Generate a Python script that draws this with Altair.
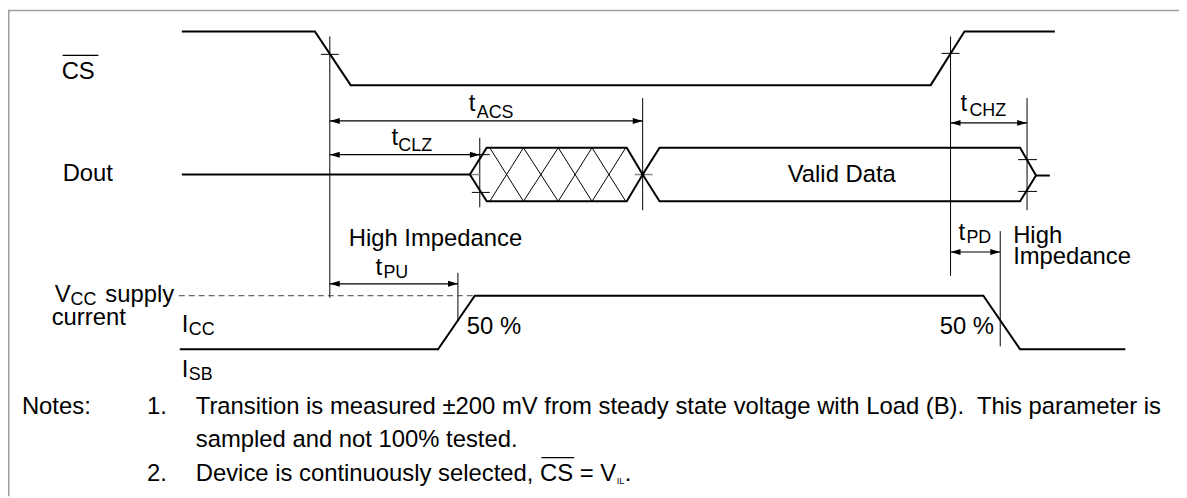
import altair as alt
import pandas as pd

# ---------------- values ----------------
# waveform vertices: time position and signal level (diagram units)
cs_time = [183, 317, 353, 937, 971, 1062]
cs_level = [30, 30, 84, 84, 30, 30]

dout_hiz_time = [183, 473]
dout_hiz_level = [174, 174]

dout_bus_time = [473, 490, 631, 647, 664, 1027, 1043, 1027, 664, 647, 631, 490, 473]
dout_bus_level = [174, 147, 147, 174, 147, 147, 175, 201, 201, 174, 201, 201, 174]

dout_tail_time = [1043, 1057]
dout_tail_level = [175, 175]

icc_time = [181, 441, 478, 990, 1027, 1133]
icc_level = [350, 350, 296, 296, 350, 350]

# "don't care" hatch apexes
hatch_apex = [493, 527, 562, 596, 630]
hatch_top = 147
hatch_bottom = 201

# timing reference marks
ref_x1 = [332, 323, 957, 948, 483, 475, 475, 647, 1034, 1025, 1025, 461, 1007]
ref_y1 = [35, 53, 35, 52, 137, 154, 192, 97, 97, 159, 191, 273, 231]
ref_x2 = [332, 341, 957, 966, 483, 493, 493, 647, 1034, 1044, 1044, 461, 1007]
ref_y2 = [298, 53, 276, 52, 207, 154, 192, 210, 210, 159, 191, 322, 347]

gray_x1 = [474, 639]
gray_x2 = [483, 657]
gray_y = [174, 174]

# dimension arrows
arrow_name = ["tACS", "tCLZ", "tCHZ", "tPD", "tPU"]
arrow_y = [120, 154, 122, 252, 284]
arrow_from = [332, 332, 957, 957, 332]
arrow_to = [647, 483, 1034, 1007, 461]

# supply reference (dashed)
dash_from, dash_to, dash_level = 180, 476, 296

# labels
M, S = 24, 18
label_text = ["CS", "Dout",
              "t", "ACS", "t", "CLZ", "t", "CHZ",
              "Valid Data", "High Impedance",
              "t", "PD", "High", "Impedance",
              "t", "PU",
              "V", "CC", "supply", "current",
              "I", "CC", "I", "SB",
              "50 %", "50 %",
              "Notes:", "1.",
              "Transition is measured \u00b1200 mV from steady state voltage with Load (B).\u00a0 This parameter is",
              "sampled and not 100% tested.",
              "2.", "Device is continuously selected, CS = V", "IL", "."]
label_x = [62, 63,
           472, 480, 394, 401, 967, 976,
           793, 351,
           965, 973, 1020, 1020,
           378, 386,
           55, 71, 106, 52,
           183, 190, 183, 190,
           470, 946,
           22, 148,
           197,
           197,
           148, 197, 621, 629]
label_y = [78, 181,
           110, 117, 144, 150, 110, 115,
           182, 246,
           240, 243, 243, 264,
           275, 278,
           302, 305, 302, 325,
           333, 336, 378, 381,
           335, 335,
           415, 415,
           415,
           448,
           483, 483, 486, 483]
label_size = [M, M,
              M, S, M, S, M, S,
              M, M,
              M, S, M, M,
              M, S,
              M, S, M, M,
              M, S, M, S,
              M, M,
              M, M,
              M,
              M,
              M, M, 9, M]

# overlines (active-low CS)
over_x1 = [63, 545]
over_x2 = [99, 578]
over_y = [54, 459]

# ---------------- chart ----------------
W, H = 1179, 490
xs = alt.Scale(domain=[8, 1187], nice=False, zero=False)
ys = alt.Scale(domain=[8, 498], nice=False, zero=False, reverse=True)


def X(f):
    return alt.X(f, type="quantitative", scale=xs, axis=None)


def Y(f):
    return alt.Y(f, type="quantitative", scale=ys, axis=None)


def poly(name, ts, ls):
    return [{"sig": name, "i": i, "t": t, "lvl": l} for i, (t, l) in enumerate(zip(ts, ls))]


wave_df = pd.DataFrame(
    poly("cs", cs_time, cs_level)
    + poly("hiz", dout_hiz_time, dout_hiz_level)
    + poly("bus", dout_bus_time, dout_bus_level)
    + poly("tail", dout_tail_time, dout_tail_level)
    + poly("icc", icc_time, icc_level)
)

hatch_rows = []
for a, b in zip(hatch_apex[:-1], hatch_apex[1:]):
    hatch_rows.append({"x1": a, "y1": hatch_top, "x2": b, "y2": hatch_bottom})
    hatch_rows.append({"x1": a, "y1": hatch_bottom, "x2": b, "y2": hatch_top})
hatch_df = pd.DataFrame(hatch_rows)

ref_df = pd.DataFrame({"x1": ref_x1, "y1": ref_y1, "x2": ref_x2, "y2": ref_y2})
gray_df = pd.DataFrame({"x1": gray_x1, "x2": gray_x2, "y": gray_y})
arrow_df = pd.DataFrame({"name": arrow_name, "y": arrow_y, "x1": arrow_from, "x2": arrow_to})
dash_df = pd.DataFrame({"x1": [dash_from], "x2": [dash_to], "y": [dash_level]})
label_df = pd.DataFrame({"text": label_text, "x": label_x, "y": label_y, "size": label_size})
over_df = pd.DataFrame({"x1": over_x1, "x2": over_x2, "y": over_y})
frame_df = pd.DataFrame({"x1": [8, 8.8], "x2": [1187, 8.8], "y1": [8.8, 8], "y2": [8.8, 498]})
dot_df = pd.DataFrame({"x": [647], "y": [174]})

frame = alt.Chart(frame_df).mark_rule(color="#a0a0a0", strokeWidth=1.6).encode(
    x=X("x1"), x2="x2", y=Y("y1"), y2="y2")

waves = alt.Chart(wave_df).mark_line(color="black", strokeWidth=2).encode(
    x=X("t"), y=Y("lvl"), detail="sig:N", order="i:Q")

hatch = alt.Chart(hatch_df).mark_rule(color="black", strokeWidth=1).encode(
    x=X("x1"), y=Y("y1"), x2="x2", y2="y2")

refs = alt.Chart(ref_df).mark_rule(color="black", strokeWidth=1).encode(
    x=X("x1"), y=Y("y1"), x2="x2", y2="y2")

grays = alt.Chart(gray_df).mark_rule(color="#8a8a8a", strokeWidth=1.5).encode(
    x=X("x1"), x2="x2", y=Y("y"))

dashed = alt.Chart(dash_df).mark_rule(color="#444444", strokeWidth=1, strokeDash=[6, 4]).encode(
    x=X("x1"), x2="x2", y=Y("y"))

shafts = alt.Chart(arrow_df).mark_rule(color="black", strokeWidth=1.2).encode(
    x=X("x1"), x2="x2", y=Y("y"))

head_l = alt.Chart(arrow_df).mark_point(
    shape="M0,0L2,-0.6L2,0.6Z", filled=True, size=100, color="black", opacity=1, strokeWidth=0
).encode(x=X("x1"), y=Y("y"))

head_r = alt.Chart(arrow_df).mark_point(
    shape="M0,0L-2,-0.6L-2,0.6Z", filled=True, size=100, color="black", opacity=1, strokeWidth=0
).encode(x=X("x2"), y=Y("y"))

dot = alt.Chart(dot_df).mark_point(filled=True, size=14, color="black", opacity=1).encode(
    x=X("x"), y=Y("y"))

labels = alt.Chart(label_df).mark_text(
    align="left", baseline="alphabetic", font="Liberation Sans", color="black"
).encode(x=X("x"), y=Y("y"), text="text:N", size=alt.Size("size:Q", scale=None))

overlines = alt.Chart(over_df).mark_rule(color="black", strokeWidth=1.3).encode(
    x=X("x1"), x2="x2", y=Y("y"))

chart = alt.layer(
    frame, hatch, refs, grays, dashed, shafts, head_l, head_r, waves, dot, labels, overlines
).properties(
    width=W, height=H, padding=0, autosize=alt.AutoSizeParams(type="none"), background="white"
).configure_view(stroke=None)

chart.save("out.html", embed_options={"renderer": "svg", "actions": False})
